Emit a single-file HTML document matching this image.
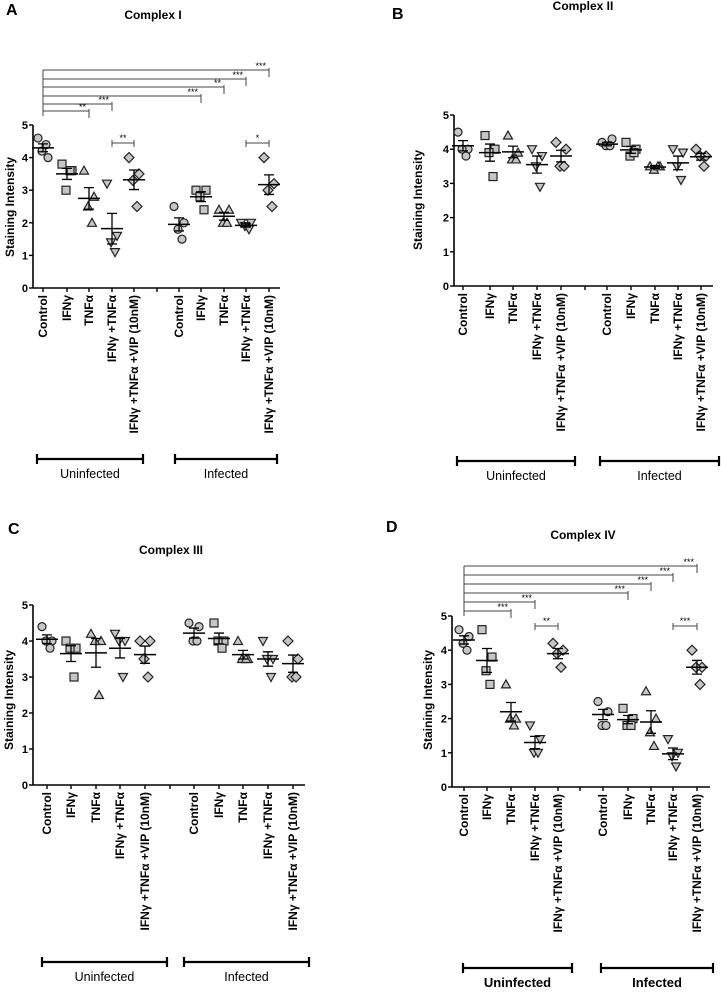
<!DOCTYPE html>
<html><head><meta charset="utf-8"><style>
html,body{margin:0;padding:0;background:#fff;width:721px;height:993px;overflow:hidden}
svg{display:block;font-family:"Liberation Sans",sans-serif}
</style></head><body>
<svg id="fig" width="721" height="993" viewBox="0 0 721 993" xmlns="http://www.w3.org/2000/svg"></svg>
<script>
const categories = ["Control","IFNγ","TNFα","IFNγ +TNFα","IFNγ +TNFα +VIP (10nM)","Control","IFNγ","TNFα","IFNγ +TNFα","IFNγ +TNFα +VIP (10nM)"];
const yTicks = [0,1,2,3,4,5];
const groupLabels = ["Uninfected","Infected"];
const pointsA = [[4.6,4.0,4.2,4.4],[3.8,3.6,3.0,3.6],[3.6,2.8,2.5,2.0],[3.2,1.6,1.4,1.1],[4.0,3.5,3.3,2.5],[2.5,2.0,1.8,1.5],[3.0,3.0,2.8,2.4],[2.4,2.4,2.0,2.0],[2.0,2.0,1.9,1.8],[4.0,3.2,3.0,2.5]];
const meansA = [4.3,3.5,2.75,1.82,3.32,1.95,2.8,2.2,1.92,3.17];
const semsA = [0.12,0.17,0.33,0.47,0.3,0.2,0.15,0.12,0.05,0.3];
const pointsB = [[4.5,4.0,4.0,3.8],[4.4,4.0,3.9,3.2],[4.4,3.9,3.7,3.7],[4.0,3.8,3.5,2.9],[4.2,4.0,3.5,3.5],[4.2,4.3,4.1,4.1],[4.2,4.0,3.8,3.9],[3.5,3.5,3.4,3.5],[4.0,3.9,3.5,3.1],[4.0,3.8,3.8,3.5]];
const meansB = [4.1,3.9,3.92,3.55,3.8,4.15,3.98,3.48,3.6,3.78];
const semsB = [0.15,0.25,0.17,0.25,0.17,0.05,0.1,0.04,0.2,0.1];
const pointsC = [[4.4,4.0,4.0,3.8],[4.0,3.8,3.8,3.0],[4.2,4.0,4.0,2.5],[4.2,4.0,4.0,3.0],[4.0,4.0,3.5,3.0],[4.5,4.4,4.0,4.0],[4.5,4.0,4.0,3.8],[4.0,3.5,3.5,3.5],[4.0,3.5,3.5,3.0],[4.0,3.5,3.0,3.0]];
const meansC = [4.05,3.65,3.67,3.8,3.62,4.22,4.07,3.62,3.5,3.37];
const semsC = [0.12,0.22,0.4,0.27,0.24,0.14,0.15,0.12,0.2,0.24];
const pointsD = [[4.6,4.4,4.2,4.0],[4.6,3.8,3.4,3.0],[3.0,2.0,2.0,1.8],[1.8,1.4,1.0,1.0],[4.2,4.0,3.9,3.5],[2.5,2.2,1.8,1.8],[2.3,2.0,1.8,1.8],[2.8,2.0,1.6,1.2],[1.4,1.0,0.9,0.6],[4.0,3.5,3.5,3.0]];
const meansD = [4.3,3.7,2.2,1.3,3.9,2.12,1.97,1.9,0.97,3.5];
const semsD = [0.12,0.35,0.27,0.18,0.15,0.15,0.12,0.33,0.17,0.2];
// significance: [fromCategory, toCategory, label]
const sigA = [[0,9,"***"],[0,8,"***"],[0,7,"**"],[0,6,"***"],[0,3,"***"],[0,2,"**"]];
const pairA = [[3,4,"**"],[8,9,"*"]];
const sigD = [[0,9,"***"],[0,8,"***"],[0,7,"***"],[0,6,"***"],[0,3,"***"],[0,2,"***"]];
const pairD = [[3,4,"**"],[8,9,"***"]];

const svg = document.getElementById('fig');
const NS = "http://www.w3.org/2000/svg";
function mk(tag, attrs, parent, text){
  const e = document.createElementNS(NS, tag);
  for (const k in attrs) e.setAttribute(k, attrs[k]);
  if (text !== undefined) e.textContent = text;
  (parent || svg).appendChild(e);
  return e;
}
const shapes = ["circle","square","up","down","diamond"];
const jit = [-5,5,-1,3];

function marker(g, shape, x, y){
  const st = {fill:"#c6c6c6", stroke:"#222", "stroke-width":1.2};
  let e;
  if (shape==="circle") e = mk("circle", Object.assign({cx:x,cy:y,r:4}, st), g);
  else if (shape==="square") e = mk("rect", Object.assign({x:x-4,y:y-4,width:8,height:8}, st), g);
  else if (shape==="up") e = mk("polygon", Object.assign({points:`${x},${y-4.5} ${x-4.5},${y+3.5} ${x+4.5},${y+3.5}`}, st), g);
  else if (shape==="down") e = mk("polygon", Object.assign({points:`${x},${y+4.5} ${x-4.5},${y-3.5} ${x+4.5},${y-3.5}`}, st), g);
  else e = mk("polygon", Object.assign({points:`${x},${y-5} ${x+5},${y} ${x},${y+5} ${x-5},${y}`}, st), g);
  
  
}

function panel(cfg){
  const g = mk("g", {});
  
  
  const yS = v => cfg.y0 - v*(cfg.y0-cfg.y5)/5;
  const xS = i => cfg.cx[i];
  const L = mk("text", {x:cfg.letter[0], y:cfg.letter[1], "font-size":16, "font-weight":"bold"}, g, cfg.letterText);
   
  const T = mk("text", {x:cfg.title[0], y:cfg.title[1], "font-size":12, "font-weight":"bold", "text-anchor":"middle"}, g, cfg.titleText);
   
  const yt = mk("text", {x:0,y:0,"font-size":12,"font-weight":"bold","text-anchor":"middle",transform:`translate(${cfg.ytitle[0]},${cfg.ytitle[1]}) rotate(-90)`}, g, "Staining Intensity");
   
  const ya = mk("line",{x1:cfg.ax,y1:yS(5),x2:cfg.ax,y2:cfg.y0,stroke:"#000","stroke-width":1.6},g);
   
  const xa = mk("line",{x1:cfg.ax,y1:cfg.y0,x2:cfg.xEnd,y2:cfg.y0,stroke:"#000","stroke-width":1.6},g);
   
  yTicks.forEach(t=>{
    mk("line",{x1:cfg.ax-4,y1:yS(t),x2:cfg.ax,y2:yS(t),stroke:"#000","stroke-width":1.4},g);
    const tl = mk("text",{x:cfg.ax-5,y:yS(t)+4,"font-size":11,"font-weight":"bold","text-anchor":"end"},g,String(t));
     
  });
  mk("line",{x1:cfg.gapX,y1:cfg.y0,x2:cfg.gapX,y2:cfg.y0+4,stroke:"#000","stroke-width":1.4},g);
  categories.forEach((c,i)=>{
    const x = xS(i);
    mk("line",{x1:x,y1:cfg.y0,x2:x,y2:cfg.y0+4,stroke:"#000","stroke-width":1.4},g);
    const tl = mk("text",{x:0,y:0,"font-size":12,"font-weight":"bold","text-anchor":"end",transform:`translate(${x+4},${cfg.y0+7}) rotate(-90)`},g,c);
     
    cfg.pts[i].forEach((v,j)=>marker(g, shapes[i%5], x+jit[j], yS(v)));
    const m = cfg.means[i], s = cfg.sems[i];
    const ml = mk("line",{x1:x-11,y1:yS(m),x2:x+11,y2:yS(m),stroke:"#000","stroke-width":1.5},g);
     
    const el = mk("path",{d:`M${x},${yS(m+s)}V${yS(m-s)}M${x-5},${yS(m+s)}H${x+5}M${x-5},${yS(m-s)}H${x+5}`,stroke:"#000","stroke-width":1.3,fill:"none"},g);
     
  });
  groupLabels.forEach((lab,k)=>{
    const [a,b] = cfg.groups[k];
    const gb = mk("path",{d:`M${a},${cfg.gy}H${b}M${a},${cfg.gy-5}V${cfg.gy+5}M${b},${cfg.gy-5}V${cfg.gy+5}`,stroke:"#000","stroke-width":2.2,fill:"none"},g);
     
    const gt = mk("text",{x:(a+b)/2,y:cfg.gy+19,"font-size":cfg.gBold?13:12.5,"font-weight":cfg.gBold?"bold":"normal","text-anchor":"middle"},g,lab);
     
  });
  if (cfg.sig){
    const x0 = xS(0);
    mk("line",{x1:x0,y1:cfg.sigY[0],x2:x0,y2:cfg.sigY[cfg.sigY.length-1]+5,stroke:"#444","stroke-width":1},g);
    cfg.sig.forEach((s,k)=>{
      const y = cfg.sigY[k], x1 = xS(s[1]);
      const sl = mk("path",{d:`M${x0},${y}H${x1}M${x1},${y-2}V${y+7}`,stroke:"#444","stroke-width":1,fill:"none"},g);
       
      const st = mk("text",{x:x1-3,y:y-1,"font-size":9,"text-anchor":"end"},g,s[2]);
       
    });
    cfg.pair.forEach(p=>{
      const a = xS(p[0]), b = xS(p[1]), y = cfg.pairY;
      const pl = mk("path",{d:`M${a},${y}H${b}M${a},${y-3}V${y+4}M${b},${y-3}V${y+4}`,stroke:"#444","stroke-width":1,fill:"none"},g);
       
      const pt = mk("text",{x:(a+b)/2,y:y-2,"font-size":9,"text-anchor":"middle"},g,p[2]);
       
    });
  }
}

panel({name:"panel-a-complex-i",letterText:"A",letter:[6,15],titleText:"Complex I",title:[153,19],ytitle:[14,207],
  ax:33,y0:288,y5:125,cx:[43,67,89,112,134,179,201,224,246,269],gapX:157,xEnd:280,
  pts:pointsA,means:meansA,sems:semsA,groups:[[37,143],[175,277]],gy:459,gBold:false,
  sig:sigA,sigY:[70,79,87,96,104,111],pair:pairA,pairY:143});
panel({name:"panel-b-complex-ii",letterText:"B",letter:[392,19],titleText:"Complex II",title:[583,10],ytitle:[422,200],
  ax:454,y0:286,y5:115,cx:[463,490,513,537,561,607,631,655,678,701],gapX:585,xEnd:713,
  pts:pointsB,means:meansB,sems:semsB,groups:[[457,575],[600,719]],gy:461,gBold:false});
panel({name:"panel-c-complex-iii",letterText:"C",letter:[8,534],titleText:"Complex III",title:[171,554],ytitle:[13,700],
  ax:33,y0:785,y5:605,cx:[47,71,96,120,145,194,219,243,268,293],gapX:170,xEnd:305,
  pts:pointsC,means:meansC,sems:semsC,groups:[[42,167],[184,309]],gy:962,gBold:false});
panel({name:"panel-d-complex-iv",letterText:"D",letter:[386,532],titleText:"Complex IV",title:[583,539],ytitle:[432,700],
  ax:452,y0:787,y5:616,cx:[464,487,511,535,558,603,628,651,673,697],gapX:580,xEnd:710,
  pts:pointsD,means:meansD,sems:semsD,groups:[[463,572],[601,713]],gy:968,gBold:true,
  sig:sigD,sigY:[566,575,584,593,602,611],pair:pairD,pairY:626});
</script>
</body></html>
